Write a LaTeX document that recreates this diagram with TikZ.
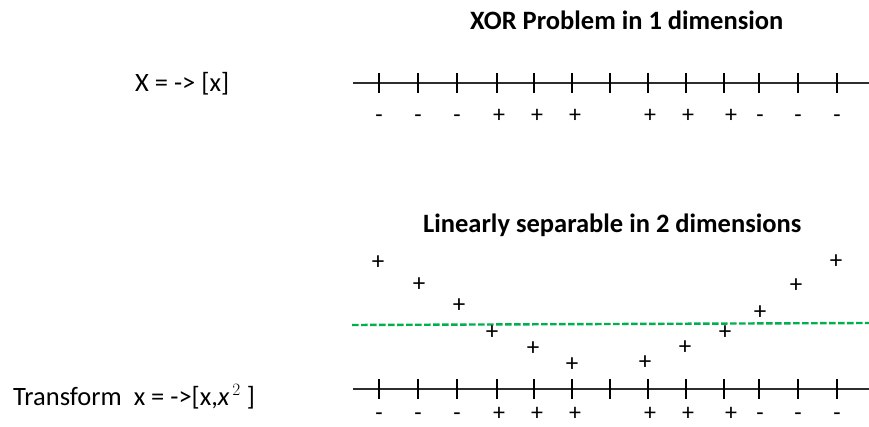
\documentclass[tikz,border=0pt]{standalone}
\usepackage{fontspec}
\setmainfont{Carlito}
\usetikzlibrary{positioning}
\definecolor{axisgray}{RGB}{45,45,45}
\definecolor{sepgreen}{RGB}{0,176,80}
\tikzset{
  axis/.style={line width=2.6pt, color=axisgray},
  tick/.style={line width=2.2pt, color=black},
  ptlabel/.style={anchor=base, inner sep=0pt, font=\fontsize{24}{28}\selectfont},
  point/.style={inner sep=0pt, font=\fontsize{25}{29}\selectfont},
  title/.style={anchor=base west, inner sep=0pt, font=\fontsize{26.5}{31}\selectfont\bfseries},
  plain/.style={anchor=base west, inner sep=0pt, font=\fontsize{26.5}{31}\selectfont}
}
\tikzset{
  sepline/.style={dash pattern=on 6.5pt off 2.5pt, line width=2.4pt, color=sepgreen}
}
\begin{document}
\begin{tikzpicture}[x=1pt, y=-1pt]
  \useasboundingbox (0,0) rectangle (869,427);
  % titles and mappings
  \node[title] (title1) at (470,30) {XOR Problem in 1 dimension};
  \node[title] (title2) at (423,233) {Linearly separable in 2 dimensions};
  \node[plain] (map1) at (135,92) {X = -> [x]};
  \node[plain] (map2) at (13,405) {Transform\ \ x = ->[x,$\mathit{x}^{\,2}$\ ]};
  % number lines
  \coordinate (top-l) at (353,83);
  \coordinate (top-r) at (869,83);
  \coordinate (bot-l) at (353,389);
  \coordinate (bot-r) at (869,389);
  \draw[axis] (top-l) -- (top-r);
  \draw[axis] (bot-l) -- (bot-r);
  \foreach \x in {379,418,457,497,534,572,610,648,686,724,759,798,837} {
    \draw[tick] (\x,73) -- (\x,93);
    \draw[tick] (\x,379) -- (\x,399);
  }
  % class labels
  \foreach \x/\s [count=\i] in {379/-,418/-,457/-,499/+,537/+,575/+,650/+,688/+,731/+,760/-,798/-,837/-} {
    \node[ptlabel] (lt\i) at (\x,123) {\s};
    \node[ptlabel] (lb\i) at (\x,420) {\s};
  }
  % separating line
  \coordinate (sep-l) at (352,325);
  \coordinate (sep-r) at (869,323);
  \draw[sepline] (sep-l) -- (sep-r);
  % transformed points
  \foreach \x/\y [count=\i] in {378/263,419/285,459/306,492/333,533/349,572/365,645/363,685/348,725/333,760/313,796/286,836/262}
    \node[point] (p\i) at (\x,\y) {+};
\end{tikzpicture}
\end{document}
